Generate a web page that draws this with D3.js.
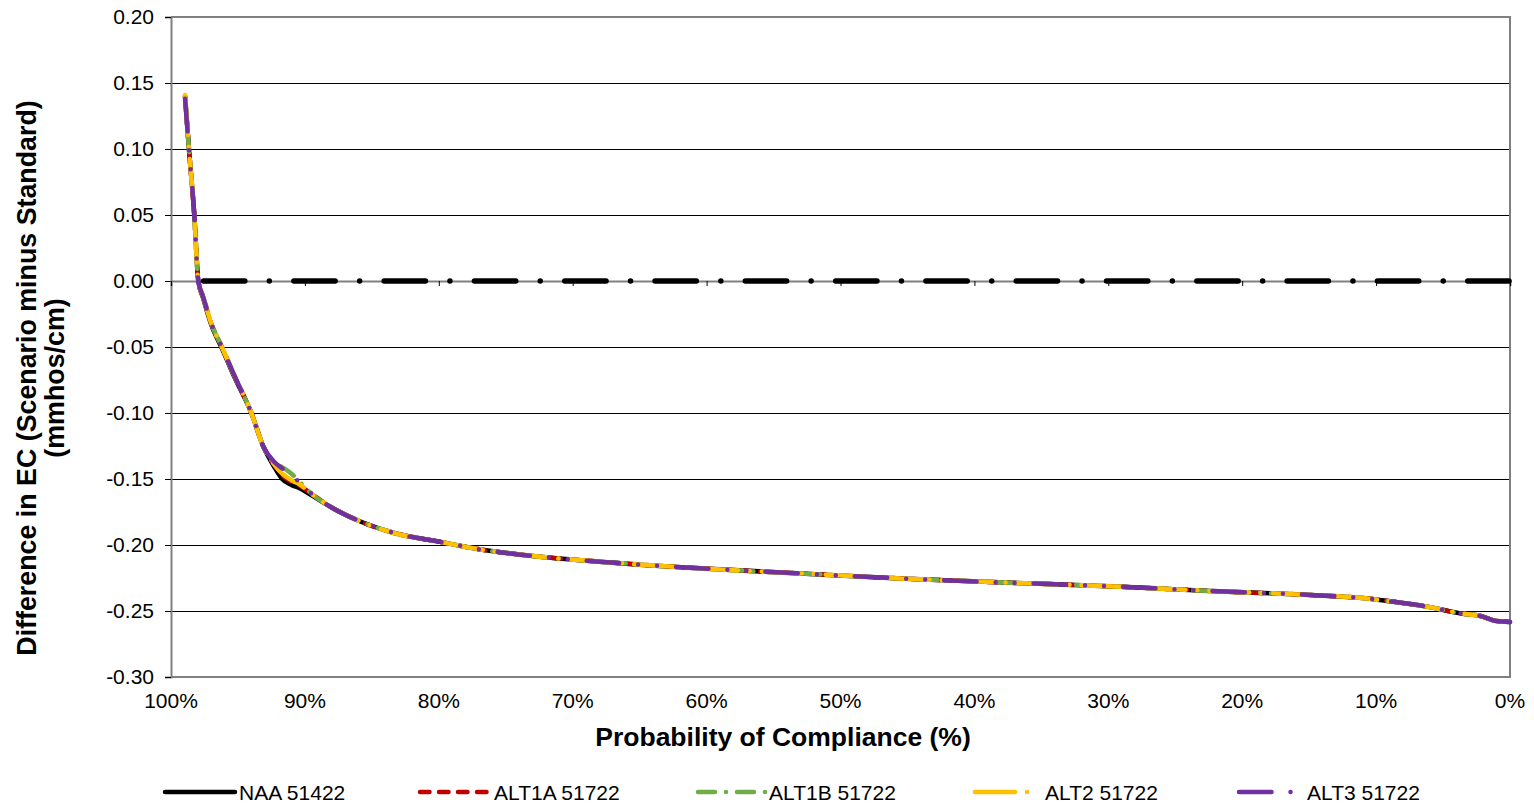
<!DOCTYPE html>
<html>
<head>
<meta charset="utf-8">
<script src="https://cdn.jsdelivr.net/npm/d3@7"></script>
<style>
  html, body { margin: 0; padding: 0; background: #fff; }
  svg { display: block; font-family: "Liberation Sans", Arial, sans-serif; }
</style>
</head>
<body>
<svg id="chart" width="1534" height="809"></svg>
<script>
// ---------- data ----------
const seriesNames = ["NAA 51422", "ALT1A 51722", "ALT1B 51722", "ALT2 51722", "ALT3 51722"];

const probNAA   = [98.95, 98.66, 98.26, 97.96, 97.6, 97.0, 96.2, 95.3, 94.0, 93.1, 92.3, 91.7, 91.0, 90.4, 89.4, 88.1, 85.9, 83.4, 79.7, 77.4, 73.0, 68.0, 60.5, 53.0, 45.6, 38.1, 29.1, 22.4, 14.9, 11.0, 8.7, 6.2, 3.7, 2.2, 1.0, 0.0];
const valNAA    = [0.140, 0.100, 0.050, 0.000, -0.013, -0.033, -0.051, -0.072, -0.100, -0.1255, -0.1407, -0.150, -0.1545, -0.157, -0.163, -0.171, -0.182, -0.1907, -0.198, -0.2025, -0.2083, -0.2126, -0.2177, -0.2215, -0.2253, -0.2283, -0.2316, -0.2348, -0.2379, -0.2402, -0.243, -0.2467, -0.2518, -0.2538, -0.2576, -0.2583];
const valALT1A  = [0.140, 0.100, 0.050, 0.000, -0.012, -0.032, -0.050, -0.071, -0.100, -0.1255, -0.139, -0.147, -0.152, -0.155, -0.162, -0.171, -0.182, -0.1907, -0.198, -0.2025, -0.2083, -0.2126, -0.2177, -0.2215, -0.2253, -0.2283, -0.2316, -0.2348, -0.2379, -0.2402, -0.243, -0.2467, -0.2518, -0.2538, -0.2576, -0.2583];
const valALT1B  = [0.140, 0.100, 0.050, 0.000, -0.012, -0.032, -0.050, -0.071, -0.100, -0.1255, -0.138, -0.141, -0.146, -0.152, -0.162, -0.171, -0.182, -0.1907, -0.198, -0.2025, -0.2083, -0.2126, -0.2177, -0.2215, -0.2253, -0.2283, -0.2316, -0.2348, -0.2379, -0.2402, -0.243, -0.2467, -0.2518, -0.2538, -0.2576, -0.2583];
const valALT2   = [0.141, 0.100, 0.050, 0.000, -0.012, -0.032, -0.050, -0.071, -0.100, -0.1255, -0.139, -0.146, -0.151, -0.154, -0.162, -0.171, -0.182, -0.1907, -0.198, -0.2025, -0.2083, -0.2126, -0.2177, -0.2215, -0.2253, -0.2283, -0.2316, -0.2348, -0.2379, -0.2402, -0.243, -0.2467, -0.2518, -0.2538, -0.2576, -0.2583];
const valALT3   = [0.138, 0.100, 0.050, 0.000, -0.012, -0.032, -0.050, -0.071, -0.100, -0.1255, -0.137, -0.142, -0.146, -0.153, -0.162, -0.171, -0.182, -0.1907, -0.198, -0.2025, -0.2083, -0.2126, -0.2177, -0.2215, -0.2253, -0.2283, -0.2316, -0.2348, -0.2379, -0.2402, -0.243, -0.2467, -0.2518, -0.2538, -0.2576, -0.2583];

// standard reference line (zero difference)
const standardProb = [97.57, 0.0];
const standardVal  = [0.0, 0.0];

const xTickValues = [100, 90, 80, 70, 60, 50, 40, 30, 20, 10, 0];
const xTickLabels = ["100%", "90%", "80%", "70%", "60%", "50%", "40%", "30%", "20%", "10%", "0%"];
const yTickValues = [0.20, 0.15, 0.10, 0.05, 0.00, -0.05, -0.10, -0.15, -0.20, -0.25, -0.30];
const yTickLabels = ["0.20", "0.15", "0.10", "0.05", "0.00", "-0.05", "-0.10", "-0.15", "-0.20", "-0.25", "-0.30"];

const seriesColors = ["#000000", "#C00000", "#70AD47", "#FFC000", "#7030A0"];
const seriesDash   = [null, "9.5 9.5", "17 11 0 11", "40 12 0 12", "32.5 19 0 19 0 19"];
const legendLen    = [70, 70, 68, 54, 53];

// ---------- layout ----------
const svg = d3.select("#chart");
const L = 171, R = 1510, T = 17, B = 677;

const x = d3.scaleLinear().domain([100, 0]).range([L, R]);
const y = d3.scaleLinear().domain([-0.30, 0.20]).range([B, T]);

// gridlines
svg.append("g").selectAll("line").data(yTickValues).join("line")
  .attr("x1", L).attr("x2", R)
  .attr("y1", d => Math.round(y(d)) + 0.5).attr("y2", d => Math.round(y(d)) + 0.5)
  .attr("stroke", "#000").attr("stroke-width", 1);

// plot border (top, right, bottom)
svg.append("path")
  .attr("d", `M${L},${T}H${R}V${B}H${L}`)
  .attr("fill", "none").attr("stroke", "#808080").attr("stroke-width", 2);

// y axis
const yAxis = d3.axisLeft(y).tickValues(yTickValues).tickSize(6).tickPadding(11)
  .tickFormat((d, i) => yTickLabels[i]);
const gy = svg.append("g").attr("transform", `translate(${L},0)`).call(yAxis);
gy.select(".domain").attr("stroke", "#808080").attr("stroke-width", 2);
gy.selectAll(".tick line").attr("stroke", "#000").attr("stroke-width", 1);
gy.selectAll(".tick text").attr("font-size", 21).attr("fill", "#000")
  .attr("font-family", "Liberation Sans, Arial, sans-serif");

// x axis line at y = 0 with ticks below
const xAxis = d3.axisBottom(x).tickValues(xTickValues).tickSize(5).tickFormat("");
const gx = svg.append("g").attr("transform", `translate(0,${y(0)})`).call(xAxis);
gx.select(".domain").attr("stroke", "#808080").attr("stroke-width", 2);
gx.selectAll(".tick line").attr("stroke", "#000").attr("stroke-width", 1);

// x tick labels at the bottom (low position)
svg.append("g").selectAll("text").data(xTickValues).join("text")
  .attr("x", d => x(d)).attr("y", 708)
  .attr("text-anchor", "middle").attr("font-size", 21).attr("fill", "#000")
  .text((d, i) => xTickLabels[i]);

// standard line
const stdData = standardProb.map((p, i) => [p, standardVal[i]]);
svg.append("path")
  .attr("d", d3.line().x(d => x(d[0])).y(d => y(d[1]))(stdData))
  .attr("fill", "none").attr("stroke", "#000").attr("stroke-width", 5.5)
  .attr("stroke-linecap", "round").attr("stroke-dasharray", "41.3 24.5 0 24.5");

// series
const allVals = [valNAA, valALT1A, valALT1B, valALT2, valALT3];
const line = d3.line().x(d => x(d[0])).y(d => y(d[1])).curve(d3.curveMonotoneX);
allVals.forEach((vals, s) => {
  const data = probNAA.map((p, i) => [p, vals[i]]);
  svg.append("path")
    .attr("d", line(data))
    .attr("fill", "none")
    .attr("stroke", seriesColors[s])
    .attr("stroke-width", 4.5)
    .attr("stroke-linecap", "round")
    .attr("stroke-linejoin", "round")
    .attr("stroke-dasharray", seriesDash[s]);
});

// axis titles
svg.append("text")
  .attr("x", 783).attr("y", 746)
  .attr("text-anchor", "middle").attr("font-size", 26.5).attr("font-weight", "bold")
  .text("Probability of Compliance (%)");

const yt = svg.append("text")
  .attr("transform", "translate(36,378) rotate(-90)")
  .attr("text-anchor", "middle").attr("font-size", 26.8).attr("font-weight", "bold");
yt.append("tspan").attr("x", 0).attr("y", 0).text("Difference in EC (Scenario minus Standard)");
yt.append("tspan").attr("x", 0).attr("y", 28).text("(mmhos/cm)");

// legend
const legendX = [163, 418, 696, 973, 1237];
const legendTextX = [239, 494, 769, 1045, 1307];
const ly = 792;
const lg = svg.append("g");
seriesNames.forEach((name, i) => {
  lg.append("line")
    .attr("x1", legendX[i] + 2).attr("x2", legendX[i] + 2 + legendLen[i])
    .attr("y1", ly).attr("y2", ly)
    .attr("stroke", seriesColors[i]).attr("stroke-width", 4.5)
    .attr("stroke-linecap", "round")
    .attr("stroke-dasharray", seriesDash[i]);
  lg.append("text")
    .attr("x", legendTextX[i]).attr("y", ly + 8)
    .attr("font-size", 21).attr("fill", "#000")
    .text(name);
});
</script>
</body>
</html>
